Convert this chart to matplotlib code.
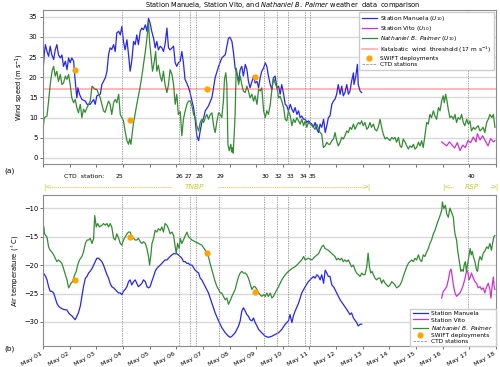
import datetime as dt
import matplotlib
matplotlib.use("Agg")
import matplotlib.pyplot as plt
import matplotlib.dates as mdates
import matplotlib.transforms as mtransforms
from matplotlib.lines import Line2D

# ---- data (days since May 01 00:00) ----
man_wind_t = [0.00, 0.05, 0.09, 0.15, 0.21, 0.27, 0.33, 0.40, 0.46, 0.52, 0.58, 0.65, 0.71, 0.77, 0.84, 0.90, 0.96,
              1.02, 1.08, 1.15, 1.21, 1.27, 1.31, 1.37, 1.46, 1.59, 1.65, 1.77, 1.90, 1.96, 2.02, 2.15, 2.21, 2.34,
              2.40, 2.46, 2.52, 2.58, 2.65, 2.71, 2.77, 2.84, 2.90, 2.96, 3.02, 3.08, 3.15, 3.21, 3.27, 3.33, 3.40,
              3.46, 3.52, 3.58, 3.65, 3.71, 3.77, 3.84, 3.90, 3.96, 4.02, 4.08, 4.15, 4.21, 4.27, 4.33, 4.40, 4.46,
              4.52, 4.58, 4.65, 4.71, 4.77, 4.90, 4.96, 5.02, 5.08, 5.15, 5.21, 5.27, 5.33, 5.40, 5.46, 5.52, 5.59,
              5.65, 5.71, 5.77, 5.84, 5.90, 5.96, 6.03, 6.09, 6.21, 6.34, 6.46, 6.59, 6.71, 6.84, 6.96, 7.02, 7.09,
              7.15, 7.21, 7.27, 7.34, 7.40, 7.46, 7.52, 7.59, 7.65, 7.71, 7.77, 7.84, 7.90, 7.96, 8.03, 8.09, 8.15,
              8.21, 8.28, 8.34, 8.40, 8.46, 8.53, 8.59, 8.65, 8.71, 8.78, 8.84, 8.90, 8.96, 9.03, 9.09, 9.15, 9.21,
              9.28, 9.34, 9.40, 9.46, 9.53, 9.59, 9.65, 9.71, 9.78, 9.84, 9.90, 9.96, 10.09, 10.15, 10.21, 10.28,
              10.34, 10.40, 10.46, 10.53, 10.59, 10.65, 10.71, 10.77, 10.84, 10.90, 10.96, 11.02, 11.08, 11.15,
              11.21, 11.27, 11.33, 11.40, 11.46, 11.52, 11.58, 11.65, 11.67, 11.74, 11.80, 11.83, 11.90, 11.96]
man_wind = [21.5, 26.0, 28.1, 26.4, 25.2, 27.7, 25.6, 24.4, 26.8, 28.1, 25.6, 24.8, 25.5, 22.7, 24.0, 21.9, 24.8,
            23.6, 24.8, 24.0, 19.0, 14.9, 17.4, 15.8, 14.5, 14.1, 13.3, 13.3, 14.5, 13.3, 15.4, 15.8, 18.2, 19.9,
            21.5, 25.6, 27.3, 26.9, 28.1, 26.4, 31.0, 31.4, 30.5, 32.6, 28.9, 26.8, 29.3, 25.6, 21.5, 24.0, 28.9,
            28.1, 30.5, 28.1, 31.4, 32.2, 31.8, 33.0, 31.4, 34.6, 33.4, 31.4, 29.7, 27.3, 28.9, 26.8, 27.7, 27.3,
            26.4, 28.1, 32.2, 27.3, 26.8, 27.7, 23.6, 22.7, 23.6, 24.0, 26.4, 23.6, 19.5, 18.5, 17.5, 16.2, 14.1,
            12.5, 9.6, 5.5, 4.3, 6.7, 8.8, 10.0, 11.7, 12.9, 15.0, 19.9, 22.7, 24.8, 25.6, 29.7, 29.9, 28.9,
            26.0, 22.3, 21.1, 19.0, 21.9, 22.7, 20.3, 23.2, 22.0, 19.0, 17.4, 19.0, 20.3, 18.6, 19.0, 17.4, 19.9,
            21.5, 22.3, 23.6, 22.7, 20.3, 18.2, 17.0, 19.9, 20.3, 17.4, 17.8, 15.8, 18.2, 15.8, 13.3, 12.9, 11.7,
            13.3, 12.1, 11.3, 12.5, 10.8, 11.7, 10.0, 10.4, 9.6, 9.6, 8.8, 9.2, 8.4, 7.6, 8.8, 7.1,
            6.3, 8.4, 7.6, 9.6, 6.3, 8.0, 10.0, 10.4, 13.3, 14.1, 14.6, 15.8, 18.2, 15.8,
            17.8, 15.4, 16.2, 18.2, 15.8, 16.6, 19.0, 21.1, 18.2, 20.3, 23.2, 18.2, 16.6, 16.2]

nbp_wind_t = [0.00, 0.05, 0.15, 0.21, 0.27, 0.34, 0.40, 0.46, 0.52, 0.58, 0.65, 0.71, 0.77, 0.84, 0.90, 0.96, 1.02,
              1.08, 1.15, 1.21, 1.27, 1.33, 1.40, 1.46, 1.52, 1.58, 1.65, 1.71, 1.77, 1.84, 1.90, 1.96, 2.02, 2.09,
              2.15, 2.21, 2.27, 2.33, 2.40, 2.46, 2.52, 2.58, 2.65, 2.71, 2.77, 2.84, 2.90, 2.96, 3.02, 3.08, 3.15,
              3.21, 3.25, 3.30, 3.35, 3.40, 3.52, 3.65, 3.71, 3.77, 3.84, 3.90, 3.96, 4.00, 4.05, 4.11, 4.17, 4.23,
              4.27, 4.33, 4.40, 4.46, 4.52, 4.58, 4.65, 4.71, 4.77, 4.84, 4.90, 4.96, 5.02, 5.08, 5.15, 5.21, 5.27,
              5.33, 5.40, 5.46, 5.52, 5.59, 5.65, 5.71, 5.77, 5.84, 5.90, 5.96, 6.03, 6.09, 6.15, 6.21, 6.28, 6.34,
              6.40, 6.46, 6.53, 6.59, 6.65, 6.71, 6.77, 6.81, 6.86, 6.90, 6.94, 6.99, 7.05, 7.08, 7.11, 7.14, 7.16,
              7.21, 7.25, 7.30, 7.34, 7.40, 7.46, 7.52, 7.59, 7.65, 7.71, 7.77, 7.84, 7.90, 7.96, 8.03, 8.09, 8.15,
              8.21, 8.28, 8.34, 8.40, 8.46, 8.53, 8.59, 8.65, 8.71, 8.78, 8.84, 8.90, 8.96, 9.03, 9.09, 9.15, 9.21,
              9.28, 9.34, 9.40, 9.46, 9.53, 9.59, 9.65, 9.71, 9.78, 9.84, 9.90, 9.96, 10.03, 10.09, 10.15, 10.21,
              10.28, 10.34, 10.40, 10.46, 10.52, 10.59, 10.65, 10.71, 10.77, 10.84, 10.90, 10.96, 11.02, 11.08,
              11.15, 11.21, 11.27, 11.33, 11.40, 11.46, 11.52, 11.58, 11.65, 11.71, 11.77, 11.84, 11.90, 11.96,
              12.02, 12.08, 12.15, 12.21, 12.27, 12.33, 12.40, 12.46, 12.52, 12.58, 12.65, 12.71, 12.77, 12.84,
              12.90, 12.96, 13.02, 13.09, 13.15, 13.21, 13.27, 13.34, 13.40, 13.46, 13.52, 13.59, 13.65, 13.71,
              13.77, 13.84, 13.90, 13.96, 14.02, 14.09, 14.15, 14.21, 14.27, 14.33, 14.40, 14.46, 14.52, 14.58,
              14.65, 14.71, 14.77, 14.84, 14.90, 14.96, 15.02, 15.06, 15.11, 15.15, 15.21, 15.27, 15.33, 15.40,
              15.46, 15.52, 15.58, 15.65, 15.71, 15.77, 15.83, 15.90, 15.96, 16.02, 16.08, 16.15, 16.21, 16.27,
              16.33, 16.40, 16.46, 16.52, 16.58, 16.65, 16.71, 16.77, 16.84, 16.90, 16.96]
nbp_wind = [7.1, 10.0, 10.4, 14.1, 18.2, 21.5, 22.7, 20.3, 21.5, 19.0, 20.7, 18.2, 18.6, 20.3, 19.5, 20.7, 18.2,
            14.9, 13.7, 14.5, 12.5, 11.2, 13.3, 10.0, 12.1, 11.3, 12.5, 13.3, 14.1, 17.8, 17.4, 17.0, 17.0, 15.8,
            14.9, 13.3, 11.7, 11.3, 12.9, 14.1, 13.3, 10.8, 13.7, 14.5, 13.7, 15.8, 10.8, 10.0, 9.2, 6.7, 4.3,
            3.4, 4.7, 3.4, 6.3, 8.8, 13.3, 17.8, 20.3, 23.2, 26.4, 29.7, 33.4, 28.9, 25.6, 21.5, 23.6, 26.4,
            21.5, 23.0, 20.3, 19.0, 21.5, 18.2, 16.2, 18.2, 21.9, 20.7, 18.2, 13.3, 15.8, 10.8, 11.5, 5.5, 9.6,
            11.5, 13.3, 14.1, 14.1, 12.9, 10.8, 10.0, 8.0, 6.7, 8.8, 9.6, 8.8, 10.0, 10.8, 9.6, 10.8, 11.2,
            8.0, 6.3, 9.2, 11.2, 10.8, 10.0, 14.1, 19.5, 21.1, 18.2, 3.4, 1.8, 3.4, 1.5, 2.6, 1.2, 3.9,
            10.8, 22.3, 20.3, 18.2, 20.3, 18.2, 16.6, 16.2, 17.8, 16.6, 14.9, 15.8, 14.1, 15.4, 13.3, 17.0, 16.6,
            17.4, 11.7, 10.0, 11.7, 10.8, 13.3, 17.0, 19.9, 18.6, 17.4, 14.9, 15.3, 14.1, 12.5, 9.6, 9.2, 11.7,
            10.4, 8.0, 9.6, 8.8, 10.0, 9.2, 8.4, 9.6, 8.0, 9.2, 7.6, 8.8, 8.4, 8.0, 7.6, 7.1,
            8.4, 7.1, 6.3, 5.9, 2.6, 3.0, 3.9, 3.4, 3.4, 4.3, 4.7, 6.3, 4.3, 3.0,
            3.9, 5.1, 4.7, 5.5, 6.7, 6.3, 7.6, 7.1, 8.4, 7.1, 8.0, 8.8, 8.4, 9.2,
            8.0, 8.8, 7.1, 7.6, 8.8, 7.6, 8.4, 7.1, 6.7, 7.6, 9.6, 7.6, 5.9, 4.7,
            5.1, 4.7, 4.3, 5.1, 4.7, 5.1, 3.9, 5.1, 3.0, 2.6, 4.7, 3.9, 3.0, 2.2,
            3.0, 2.6, 3.4, 2.2, 2.6, 3.9, 3.0, 4.3, 2.6, 5.5, 8.8, 8.4, 10.8, 10.0,
            11.7, 10.4, 9.6, 12.5, 11.7, 14.1, 15.4, 13.7, 15.8, 14.6, 12.0, 10.0, 10.4, 9.6,
            10.8, 8.8, 10.0, 9.6, 10.8, 8.8, 8.0, 9.6, 8.4, 9.2, 6.7, 7.6, 7.1, 7.6,
            8.0, 6.7, 7.1, 7.6, 6.3, 8.8, 9.6, 10.8, 10.0, 10.8, 7.6]

vito_wind_t = [14.96, 15.05, 15.15, 15.25, 15.35, 15.45, 15.55, 15.65, 15.75, 15.85, 15.95, 16.05, 16.15, 16.25,
               16.30, 16.40, 16.50, 16.60, 16.70, 16.80, 16.90, 16.96]
vito_wind = [4.0, 3.5, 3.0, 4.0, 3.2, 2.5, 3.8, 1.8, 3.2, 2.6, 4.3, 3.8, 5.2, 4.0, 6.0, 4.5, 5.5, 4.2, 3.0, 4.8,
             4.0, 4.3]

man_temp_t = [0.00, 0.05, 0.10, 0.15, 0.21, 0.27, 0.33, 0.40, 0.46, 0.52, 0.58, 0.65, 0.77, 0.90, 0.96, 1.02, 1.08,
              1.15, 1.21, 1.27, 1.33, 1.40, 1.46, 1.52, 1.59, 1.65, 1.71, 1.77, 1.84, 1.90, 1.96, 2.02, 2.09, 2.15,
              2.21, 2.27, 2.34, 2.40, 2.46, 2.52, 2.58, 2.65, 2.71, 2.77, 2.84, 2.90, 2.96, 3.02, 3.08, 3.15, 3.21,
              3.27, 3.33, 3.40, 3.46, 3.52, 3.58, 3.65, 3.71, 3.77, 3.84, 3.90, 3.96, 4.02, 4.08, 4.15, 4.21, 4.27,
              4.33, 4.40, 4.46, 4.52, 4.58, 4.65, 4.71, 4.77, 4.84, 4.90, 5.02, 5.08, 5.15, 5.21, 5.27, 5.34, 5.40,
              5.46, 5.52, 5.59, 5.71, 5.84, 5.90, 5.96, 6.09, 6.21, 6.34, 6.46, 6.59, 6.71, 6.84, 6.96, 7.02, 7.09,
              7.21, 7.34, 7.40, 7.46, 7.52, 7.59, 7.65, 7.71, 7.77, 7.84, 7.90, 7.96, 8.03, 8.09, 8.15, 8.21, 8.34,
              8.46, 8.59, 8.71, 8.84, 8.96, 9.09, 9.21, 9.27, 9.34, 9.40, 9.46, 9.59, 9.71, 9.84, 9.96, 10.09,
              10.15, 10.21, 10.28, 10.34, 10.40, 10.46, 10.53, 10.59, 10.65, 10.71, 10.77, 10.84, 10.90, 10.96,
              11.02, 11.15, 11.27, 11.40, 11.52, 11.58, 11.65, 11.77, 11.83, 11.90, 11.96]
man_temp = [-21.4, -21.6, -22.0, -22.6, -23.8, -24.6, -24.6, -24.9, -25.8, -26.7, -27.2, -27.5, -27.8, -27.9, -28.4,
            -28.7, -28.9, -29.3, -29.6, -29.0, -28.4, -27.2, -25.5, -23.8, -22.3, -22.0, -21.4, -21.1, -20.6, -20.0,
            -19.4, -18.8, -18.8, -19.1, -19.4, -20.0, -20.9, -21.7, -22.3, -23.2, -23.8, -24.0, -24.3, -24.6, -24.9,
            -24.9, -25.2, -24.6, -24.3, -23.8, -22.9, -22.6, -23.5, -22.9, -22.6, -23.2, -23.8, -23.5, -23.2, -22.6,
            -22.9, -23.8, -24.0, -23.8, -22.9, -22.0, -21.1, -20.6, -20.3, -20.0, -19.7, -19.4, -19.1, -19.1, -18.8,
            -18.5, -18.2, -18.0, -18.0, -18.2, -18.5, -18.8, -19.4, -19.4, -19.7, -19.7, -20.0, -20.0, -20.9, -21.4,
            -22.3, -22.6, -23.8, -24.9, -26.7, -28.4, -29.8, -31.0, -31.9, -32.5, -32.7, -32.5, -31.9, -30.7, -29.8,
            -28.1, -27.5, -28.1, -28.7, -29.0, -29.6, -29.8, -29.3, -30.1, -30.7, -31.3, -31.6, -31.9, -32.5, -32.7,
            -32.5, -32.2, -31.9, -31.3, -30.4, -29.8, -28.7, -30.1, -28.9, -28.1, -26.7, -24.9, -23.8, -22.9, -22.3,
            -22.0, -22.3, -21.7, -22.0, -22.6, -21.7, -23.2, -20.9, -21.4, -22.0, -22.0, -23.5, -23.8, -24.3,
            -24.9, -26.1, -26.9, -27.8, -28.7, -28.4, -29.3, -30.1, -30.7, -30.4, -30.4]

nbp_temp_t = [0.00, 0.03, 0.06, 0.15, 0.21, 0.27, 0.33, 0.40, 0.46, 0.52, 0.58, 0.65, 0.71, 0.77, 0.84, 0.90, 0.96,
              1.00, 1.05, 1.11, 1.15, 1.19, 1.25, 1.30, 1.37, 1.46, 1.52, 1.59, 1.65, 1.71, 1.77, 1.84, 1.90, 1.94,
              2.00, 2.05, 2.12, 2.21, 2.27, 2.34, 2.40, 2.46, 2.52, 2.58, 2.65, 2.71, 2.77, 2.84, 2.90, 2.96, 3.02,
              3.08, 3.15, 3.21, 3.27, 3.33, 3.40, 3.46, 3.52, 3.58, 3.65, 3.71, 3.77, 3.84, 3.90, 3.96, 4.00, 4.05,
              4.09, 4.15, 4.21, 4.27, 4.33, 4.40, 4.46, 4.52, 4.58, 4.65, 4.71, 4.77, 4.84, 4.90, 4.96, 5.00, 5.05,
              5.11, 5.15, 5.21, 5.27, 5.34, 5.40, 5.46, 5.52, 5.59, 5.71, 5.84, 5.96, 6.03, 6.09, 6.15, 6.21, 6.27,
              6.34, 6.40, 6.46, 6.53, 6.59, 6.65, 6.71, 6.77, 6.84, 6.90, 6.96, 7.02, 7.09, 7.15, 7.21, 7.27, 7.34,
              7.40, 7.46, 7.52, 7.59, 7.65, 7.71, 7.77, 7.84, 7.90, 7.96, 8.03, 8.09, 8.15, 8.21, 8.28, 8.34, 8.40,
              8.46, 8.53, 8.59, 8.65, 8.71, 8.78, 8.84, 8.96, 9.09, 9.21, 9.34, 9.46, 9.59, 9.71, 9.78, 9.84, 9.96,
              10.09, 10.21, 10.34, 10.46, 10.52, 10.59, 10.71, 10.84, 10.96, 11.02, 11.08, 11.15, 11.21, 11.27,
              11.33, 11.40, 11.46, 11.52, 11.58, 11.65, 11.71, 11.77, 11.84, 11.90, 11.96, 12.02, 12.08, 12.15,
              12.20, 12.25, 12.30, 12.35, 12.40, 12.46, 12.52, 12.58, 12.65, 12.71, 12.77, 12.84, 12.90, 12.96,
              13.02, 13.09, 13.15, 13.21, 13.27, 13.34, 13.40, 13.46, 13.52, 13.59, 13.65, 13.71, 13.77, 13.84,
              13.90, 13.96, 14.02, 14.09, 14.15, 14.21, 14.27, 14.33, 14.40, 14.46, 14.52, 14.58, 14.65, 14.71,
              14.77, 14.84, 14.90, 14.96, 14.99, 15.04, 15.10, 15.15, 15.21, 15.27, 15.33, 15.40, 15.43, 15.46,
              15.52, 15.56, 15.60, 15.65, 15.68, 15.72, 15.77, 15.81, 15.85, 15.89, 15.92, 15.96, 16.00, 16.03,
              16.07, 16.11, 16.15, 16.21, 16.27, 16.31, 16.35, 16.40, 16.46, 16.52, 16.58, 16.65, 16.71, 16.77,
              16.83, 16.87, 16.92, 16.96]
nbp_temp = [-13.3, -13.2, -14.5, -15.1, -16.8, -17.4, -17.7, -18.2, -18.8, -19.4, -19.1, -19.4, -19.7, -20.6, -21.7,
            -22.6, -24.0, -23.7, -23.2, -22.9, -22.3, -21.7, -21.1, -20.0, -19.1, -18.5, -17.7, -16.2, -15.6, -15.6,
            -15.3, -16.2, -15.3, -11.3, -13.3, -12.7, -13.3, -13.0, -12.7, -13.0, -12.7, -13.3, -12.7, -13.3, -15.3,
            -15.6, -14.5, -15.3, -16.2, -16.5, -15.6, -15.1, -14.5, -14.2, -14.2, -15.1, -15.3, -15.6, -15.6, -15.3,
            -15.9, -16.2, -15.9, -16.2, -17.1, -18.5, -20.0, -18.2, -16.2, -15.3, -13.9, -14.2, -13.6, -13.9, -13.3,
            -14.2, -12.7, -13.0, -13.6, -14.5, -14.2, -14.8, -16.8, -18.0, -16.2, -17.1, -15.3, -16.2, -15.6, -14.8,
            -14.2, -15.0, -15.3, -15.6, -15.9, -16.2, -16.5, -17.0, -17.4, -18.0, -18.5, -19.7, -20.9, -22.0, -22.9,
            -23.8, -24.3, -24.9, -24.9, -25.5, -26.1, -25.8, -26.9, -26.3, -25.5, -24.9, -24.3, -23.2, -22.0, -21.4,
            -21.1, -21.4, -21.4, -21.7, -22.3, -23.2, -24.3, -23.8, -23.8, -24.3, -24.9, -25.2, -25.5, -25.2, -25.5,
            -24.9, -25.5, -24.9, -25.8, -25.5, -24.9, -24.3, -23.8, -22.6, -21.7, -21.1, -20.6, -20.3, -19.7, -19.1,
            -18.5, -19.1, -18.8, -19.1, -18.5, -18.0, -16.8, -16.5, -17.1, -17.4, -18.0, -18.5, -19.1, -18.8, -19.1,
            -18.8, -19.4, -19.1, -19.4, -19.1, -19.7, -20.3, -20.0, -20.9, -21.4, -21.7, -22.0, -21.4, -21.7, -21.7,
            -20.3, -17.9, -20.3, -21.4, -21.1, -21.7, -22.3, -22.6, -22.3, -22.3, -23.2, -22.6, -23.2, -23.5, -23.8,
            -23.5, -22.9, -23.2, -23.5, -24.0, -23.8, -23.5, -22.9, -22.0, -21.1, -20.3, -19.7, -19.4, -19.1, -19.4,
            -18.8, -19.1, -18.2, -19.1, -19.4, -18.2, -18.5, -17.7, -17.1, -16.2, -15.6, -14.5, -13.9, -13.0, -12.1,
            -11.3, -10.4, -8.9, -10.1, -9.5, -11.0, -11.6, -10.0, -10.7, -11.6, -13.3, -14.5, -15.6, -17.4, -18.6,
            -20.0, -21.1, -20.8, -21.1, -19.9, -19.4, -21.1, -20.2, -19.1, -18.0, -17.1, -18.2, -17.6, -18.5, -19.4,
            -20.9, -21.1, -19.4, -18.5, -19.1, -17.9, -17.6, -16.8, -17.1, -16.2, -17.4, -16.2, -15.0, -14.8]

vito_temp_t = [14.96, 15.02, 15.08, 15.15, 15.21, 15.27, 15.31, 15.34, 15.40, 15.46, 15.52, 15.58, 15.65, 15.71,
               15.77, 15.84, 15.90, 15.94, 15.99, 16.02, 16.08, 16.15, 16.21, 16.27, 16.33, 16.40, 16.46, 16.52,
               16.58, 16.65, 16.71, 16.77, 16.81, 16.86, 16.90, 16.93, 16.96]
vito_temp = [-25.8, -24.6, -24.3, -23.8, -22.6, -21.1, -20.7, -21.4, -23.5, -24.9, -25.5, -25.2, -24.9, -24.3,
             -23.5, -22.3, -20.9, -21.2, -22.6, -22.3, -21.4, -22.3, -22.9, -23.2, -24.0, -23.8, -24.3, -24.0,
             -24.9, -23.8, -23.2, -24.3, -25.8, -23.5, -22.1, -23.8, -24.3]

swift_t = [1.19, 3.25, 6.16, 7.96]
swift_wind = [21.7, 9.4, 17.2, 20.1]
swift_temp = [-22.6, -15.05, -17.85, -24.7]

ctd_names = ['25', '26', '27', '28', '29', '30', '32', '33', '34', '35', '40']
ctd_t = [2.95, 5.11, 5.53, 5.74, 6.62, 8.30, 8.77, 9.21, 9.83, 10.02, 15.96]
# where the station numbers are written (nudged apart where lines are close)
ctd_label_t = [2.88, 5.11, 5.47, 5.86, 6.66, 8.36, 8.82, 9.30, 9.79, 10.11, 16.08]

katabatic = 17

t0 = dt.datetime(2017, 5, 1)


def to_dates(days):
    return [t0 + dt.timedelta(days=d) for d in days]


plt.rcParams['font.size'] = 4.9
plt.rcParams['axes.edgecolor'] = '0.55'
plt.rcParams['xtick.color'] = '0.35'
plt.rcParams['ytick.color'] = '0.35'
plt.rcParams['xtick.labelcolor'] = 'black'
plt.rcParams['ytick.labelcolor'] = 'black'

fig = plt.figure(figsize=(5, 3.67), dpi=100)
ax1 = fig.add_axes([0.086, 0.553, 0.906, 0.420])
ax2 = fig.add_axes([0.086, 0.056, 0.906, 0.414], sharex=ax1)

c_man, c_vito, c_nbp = (0.15, 0.15, 0.95), (0.8, 0.2, 0.8), (0.2, 0.55, 0.2)
yel = '#c8c832'
leg_kw = dict(fontsize=4.2, framealpha=1, edgecolor='0.8', fancybox=False, handlelength=2.6,
              labelspacing=0.18, borderpad=0.45, handletextpad=0.6)

# --- wind ---
ax1.plot(to_dates(man_wind_t), man_wind, color=c_man, lw=0.9, label='Station Manuela ($U_{10}$)')
ax1.plot(to_dates(vito_wind_t), vito_wind, color=c_vito, lw=0.9, label='Station Vito ($U_{10}$)')
ax1.plot(to_dates(nbp_wind_t), nbp_wind, color=c_nbp, lw=0.9,
         label=r'$\it{Nathaniel\ B.\ Palmer}$ ($U_{10}$)')
ax1.axhline(katabatic, color='red', alpha=0.3, lw=1.3, label='Katabatic  wind  threshold (17 m s$^{-1}$)')
ax1.plot(to_dates(swift_t), swift_wind, 'o', color='orange', ms=3.5, label='SWIFT deployments')
for t in ctd_t:
    ax1.axvline(t0 + dt.timedelta(days=t), color='0.5', ls='--', lw=0.5, dashes=(2, 1.5))
ax1.set_ylim(-1.5, 36.7)
ax1.set_yticks(range(0, 36, 5))
ax1.set_ylabel('Wind speed (m s$^{-1}$)', labelpad=2)
ax1.grid(axis='y', color='0.85', lw=1.0)
ax1.set_axisbelow(True)
ax1.set_title(r'Station Manuela, Station Vito, and $\it{Nathaniel\ B.\ Palmer}$ weather  data  comparison',
              fontsize=4.8, pad=1.5, x=0.53)
h, l = ax1.get_legend_handles_labels()
h.append(Line2D([], [], color='0.5', ls='--', lw=0.5))
l.append('CTD stations')
ax1.legend(h, l, loc='upper right', borderaxespad=0.3, **leg_kw)
plt.setp(ax1.get_xticklabels(), visible=False)

# CTD station labels
trans1 = mtransforms.blended_transform_factory(ax1.transData, ax1.transAxes)
ax1.text(mdates.date2num(t0 + dt.timedelta(days=0.8)), -0.078, 'CTD  station:', transform=trans1,
         ha='left', va='center', fontsize=4.4)
for name, t in zip(ctd_names, ctd_label_t):
    ax1.text(mdates.date2num(t0 + dt.timedelta(days=t)), -0.078, name, transform=trans1,
             ha='center', va='center', fontsize=4.4)

# --- temperature ---
ax2.plot(to_dates(man_temp_t), man_temp, color=c_man, lw=0.9, label='Station Manuela')
ax2.plot(to_dates(vito_temp_t), vito_temp, color=c_vito, lw=0.9, label='Station Vito')
ax2.plot(to_dates(nbp_temp_t), nbp_temp, color=c_nbp, lw=0.9, label=r'$\it{Nathaniel\ B.\ Palmer}$')
ax2.plot(to_dates(swift_t), swift_temp, 'o', color='orange', ms=3.5, label='SWIFT deployments')
for t in ctd_t:
    ax2.axvline(t0 + dt.timedelta(days=t), color='0.5', ls='--', lw=0.5, dashes=(2, 1.5))
ax2.set_ylim(-34.3, -7.6)
ax2.set_yticks([-30, -25, -20, -15, -10])
ax2.set_ylabel(r'Air temperature ($^\circ$C)', labelpad=2)
ax2.grid(axis='y', color='0.85', lw=1.0)
ax2.set_axisbelow(True)
h, l = ax2.get_legend_handles_labels()
h.append(Line2D([], [], color='0.5', ls='--', lw=0.5))
l.append('CTD stations')
ax2.legend(h, l, loc='lower right', borderaxespad=0.0, **leg_kw)

ax2.set_xlim(t0, t0 + dt.timedelta(days=17))
ax2.xaxis.set_major_locator(mdates.DayLocator())
ax2.xaxis.set_major_formatter(mdates.DateFormatter('%b %d'))
for lab in ax2.get_xticklabels():
    lab.set_rotation(30)
    lab.set_ha('right')
    lab.set_fontsize(4.6)
ax1.tick_params(length=2.5, width=0.6, pad=1.5)
ax2.tick_params(length=2.5, width=0.6, pad=1.0)

fig.text(0.008, 0.535, '(a)', fontsize=5.3, ha='left', va='center')
fig.text(0.008, 0.05, '(b)', fontsize=5.3, ha='left', va='center')

# ship period annotations above panel b
trans2 = mtransforms.blended_transform_factory(ax2.transData, ax2.transAxes)


def span(d0, d1, dlab, name):
    x0 = mdates.date2num(t0 + dt.timedelta(days=d0))
    x1 = mdates.date2num(t0 + dt.timedelta(days=d1))
    xl = mdates.date2num(t0 + dt.timedelta(days=dlab))
    y = 1.048
    ax2.text(x0, y, '|<', transform=trans2, color=yel, ha='left', va='center', fontsize=5, clip_on=False)
    ax2.text(x1, y, '>|', transform=trans2, color=yel, ha='right', va='center', fontsize=5, clip_on=False)
    ax2.text(xl, y, name, transform=trans2, color=yel, ha='center', va='center', fontsize=5.3,
             style='italic', clip_on=False)
    w = (len(name) * 0.15 + 0.25)
    ax2.plot([x0 + 0.22, xl - w], [y, y], transform=trans2, color=yel, lw=0.5, ls=(0, (2, 1)), clip_on=False)
    ax2.plot([xl + w, x1 - 0.22], [y, y], transform=trans2, color=yel, lw=0.5, ls=(0, (2, 1)), clip_on=False)


span(0.0, 12.3, 5.7, 'TNBP')
span(14.96, 17.1, 16.08, 'RSP')

fig.savefig('out.png', dpi=100)
